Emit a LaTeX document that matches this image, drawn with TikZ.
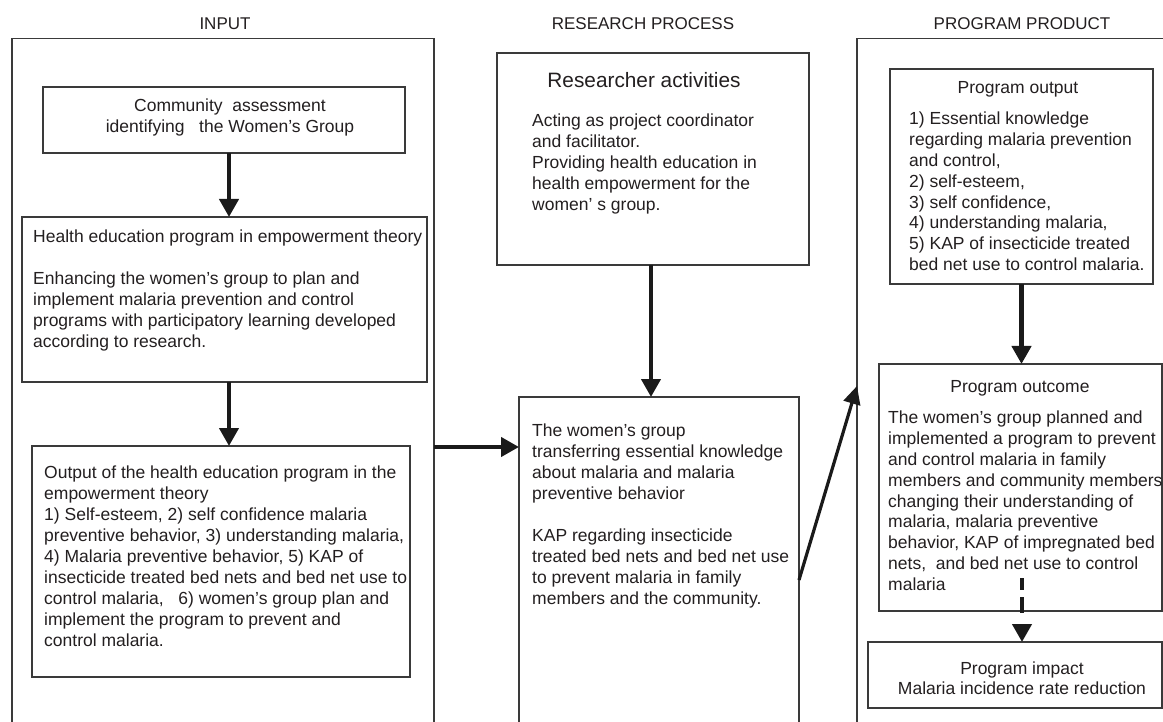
\documentclass[tikz,border=0pt]{standalone}
\usepackage{fontspec}
\setmainfont{Liberation Sans}
\usetikzlibrary{arrows.meta}
\definecolor{boxc}{HTML}{3A3A3A}
\definecolor{txtc}{HTML}{231F20}
\definecolor{arrc}{HTML}{1A1A1A}
\tikzset{
  box/.style={draw=boxc, line width=1.1pt, rectangle, inner sep=0pt, outer sep=0pt, anchor=north west},
  txt/.style={inner sep=0pt, anchor=north west, align=left, text=txtc, font=\fontsize{17.5}{21}\selectfont},
  txtb/.style={inner sep=0pt, anchor=north west, align=left, text=txtc, font=\fontsize{17.5}{20.8}\selectfont},
  ttl/.style={inner sep=0pt, align=center, text=txtc, font=\fontsize{17.5}{20.5}\selectfont},
  lbl/.style={inner sep=0pt, text=txtc, font=\fontsize{17}{20}\selectfont},
  arr/.style={line width=4.2pt, draw=arrc, -{Triangle[length=18pt,width=19pt]}}
}
\begin{document}
\begin{tikzpicture}[x=1pt,y=-1pt]
\useasboundingbox (0,0) rectangle (1163,722);
\clip (0,0) rectangle (1163,722);
\fill[white] (0,0) rectangle (1163,722);
% column labels
\node[lbl] (lin) at (225,24) {INPUT};
\node[lbl] (lrp) at (643,24) {RESEARCH PROCESS};
\node[lbl] (lpp) at (1022,24) {PROGRAM PRODUCT};
% frames
\node[box, minimum width=422pt, minimum height=700pt] (inframe) at (12,38.5) {};
\node[box, minimum width=330pt, minimum height=700pt] (prodframe) at (857,38.5) {};
% INPUT column
\node[box, minimum width=362pt, minimum height=66pt] (comm) at (43,87) {};
\node[ttl] (commt) at (230,117.5) {Community\ \ assessment\\identifying\ \ \ the Women’s Group};
\node[box, minimum width=405pt, minimum height=165pt] (health) at (22,217) {};
\node[txt] (healtht) at (33,230) {Health education program in empowerment theory\\[21pt]Enhancing the women’s group to plan and\\implement malaria prevention and control\\programs with participatory learning developed\\according to research.};
\node[box, minimum width=378pt, minimum height=231pt] (outb) at (32,446) {};
\node[txt] (outbt) at (44,466) {Output of the health education program in the\\empowerment theory\\1) Self-esteem, 2) self confidence malaria\\preventive behavior, 3) understanding malaria,\\4) Malaria preventive behavior, 5) KAP of\\insecticide treated bed nets and bed net use to\\control malaria,\ \ \ 6) women’s group plan and\\implement the program to prevent and\\control malaria.};
% RESEARCH PROCESS column
\node[box, minimum width=312pt, minimum height=212pt] (res) at (497,53) {};
\node[inner sep=0pt, text=txtc, font=\fontsize{20.8}{24}\selectfont] (rest) at (644,80) {Researcher activities};
\node[txt] (resb) at (532,114) {Acting as project coordinator\\and facilitator.\\Providing health education in\\health empowerment for the\\women’ s group.};
\node[box, minimum width=280pt, minimum height=340pt] (women) at (519,397) {};
\node[txt] (womt) at (532,424) {The women’s group\\transferring essential knowledge\\about malaria and malaria\\preventive behavior\\[21pt]KAP regarding insecticide\\treated bed nets and bed net use\\to prevent malaria in family\\members and the community.};
% PROGRAM PRODUCT column
\node[box, minimum width=263pt, minimum height=215pt] (pout) at (890,69) {};
\node[ttl] (poutt) at (1018,89) {Program output};
\node[txtb] (poutb) at (909,112) {1) Essential knowledge\\regarding malaria prevention\\and control,\\2) self-esteem,\\3) self confidence,\\4) understanding malaria,\\5) KAP of insecticide treated\\bed net use to control malaria.};
\node[box, minimum width=283pt, minimum height=247pt] (outc) at (879,364) {};
\node[ttl] (outct) at (1020,388) {Program outcome};
\node[txtb] (outcb) at (888,411) {The women’s group planned and\\implemented a program to prevent\\and control malaria in family\\members and community members\\changing their understanding of\\malaria, malaria preventive\\behavior, KAP of impregnated bed\\nets,\ \ and bed net use to control\\malaria};
\node[box, minimum width=294pt, minimum height=66pt] (imp) at (868,642) {};
\node[ttl] (impt) at (1022,678) {Program impact\\Malaria incidence rate reduction};
% connectors
\draw[arr] ([xshift=5pt]comm.south) -- ([xshift=5pt]comm.south |- health.north);
\draw[arr] ([xshift=4.5pt]health.south) -- ([xshift=4.5pt]health.south |- outb.north);
\coordinate (inR) at (434,447);
\draw[arr] (inR) -- (inR -| women.west);
\coordinate (a3) at ([xshift=-2pt]res.south);
\draw[arr] (a3) -- (a3 |- women.north);
\coordinate (sA) at (799,580);
\coordinate (sB) at (857,386);
\draw[line width=3.2pt, draw=arrc, -{Triangle[length=18pt,width=17pt]}] (sA) -- (sB);
\draw[arr] (pout.south) -- (pout.south |- outc.north);
\coordinate (dA) at (1022,578);
\draw[arr, dash pattern=on 12pt off 7pt on 16pt off 12pt] (dA) -- (dA |- imp.north);
\end{tikzpicture}
\end{document}
